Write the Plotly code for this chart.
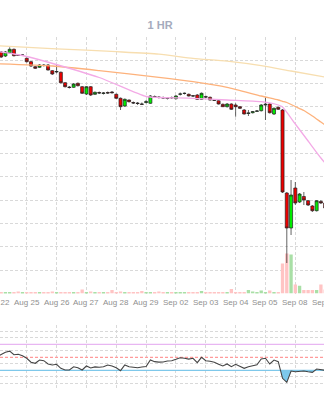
import plotly.graph_objects as go

# ---------------- data ----------------
days = ["Aug 22", "Aug 25", "Aug 26", "Aug 27", "Aug 28", "Aug 29",
        "Sep 02", "Sep 03", "Sep 04", "Sep 05", "Sep 08", "Sep 09"]
bars_per_day = 7
bar_index = list(range(78))

open_ = [44.5, 44.8, 44.4, 44.73, 45.07, 44.5, 44.47, 44.17, 43.83, 43.33,
         43.27, 43.5, 43.5, 42.93, 42.8, 42.77, 41.73, 41.3, 41.27, 41.67,
         41.33, 40.6, 41.33, 40.57, 40.75, 40.65, 40.75, 40.8, 40.57, 40.17,
         39.4, 40.0, 39.75, 39.7, 39.6, 39.75, 39.67, 40.35, 40.3, 40.25,
         40.15, 40.25, 40.13, 40.58, 40.65, 40.57, 40.43, 40.5, 40.07, 40.33,
         40.27, 40.0, 39.93, 39.57, 39.33, 39.6, 39.5, 39.33, 39.0, 38.65,
         38.73, 38.87, 38.93, 39.5, 39.6, 38.6, 39.27, 39.0, 30.7, 27.2,
         31.2, 29.8, 30.35, 29.93, 29.4, 28.93, 29.85, 29.7]
high = [44.7, 44.9, 44.9, 45.27, 45.15, 44.6, 44.57, 44.25, 43.9, 43.4,
        43.6, 43.6, 43.6, 43.0, 43.6, 42.85, 41.8, 41.4, 41.7, 41.75,
        41.4, 41.4, 41.4, 40.85, 40.85, 40.8, 40.85, 40.9, 40.65, 40.25,
        40.15, 40.05, 39.85, 39.8, 39.75, 40.0, 40.5, 40.45, 40.4, 40.35,
        40.3, 40.35, 40.5, 40.75, 40.75, 40.65, 40.5, 40.6, 40.75, 40.45,
        40.35, 40.1, 40.0, 39.65, 39.7, 39.67, 39.67, 39.4, 39.1, 39.0,
        38.9, 39.0, 39.6, 40.27, 39.7, 39.25, 39.35, 39.1, 30.8, 32.0,
        31.8, 30.7, 30.8, 30.0, 29.5, 30.0, 30.0, 29.9]
low = [44.4, 44.2, 44.3, 44.65, 44.35, 44.4, 44.4, 43.75, 43.3, 43.1,
       43.2, 43.35, 42.95, 42.5, 42.67, 41.65, 41.25, 41.15, 41.2, 41.35,
       40.6, 40.5, 40.4, 40.5, 40.6, 40.55, 40.6, 40.65, 40.1, 39.0,
       39.3, 39.75, 39.6, 39.5, 39.5, 39.65, 39.6, 40.2, 40.15, 40.1,
       40.05, 40.1, 40.05, 40.45, 40.55, 40.35, 40.3, 40.0, 40.0, 40.2,
       39.95, 39.9, 39.55, 39.3, 39.25, 39.0, 38.33, 39.1, 38.55, 38.4,
       38.65, 38.8, 38.85, 38.0, 38.65, 38.5, 39.0, 30.7, 23.7, 26.5,
       29.5, 29.7, 29.5, 29.4, 28.8, 28.85, 29.6, 28.4]
close = [44.6, 44.3, 44.8, 45.07, 44.43, 44.45, 44.5, 43.83, 43.4, 43.17,
         43.5, 43.45, 43.0, 42.6, 42.85, 41.73, 41.33, 41.25, 41.6, 41.43,
         40.67, 41.33, 40.5, 40.77, 40.7, 40.7, 40.7, 40.73, 40.17, 39.33,
         40.07, 39.83, 39.7, 39.65, 39.57, 39.83, 40.4, 40.3, 40.25, 40.2,
         40.2, 40.23, 40.4, 40.6, 40.67, 40.4, 40.4, 40.07, 40.67, 40.3,
         40.0, 39.97, 39.6, 39.33, 39.6, 39.07, 39.33, 39.17, 38.6, 38.7,
         38.83, 38.9, 39.5, 39.57, 38.73, 39.17, 39.07, 30.8, 27.2, 30.5,
         29.7, 30.6, 30.0, 29.5, 28.93, 29.93, 29.7, 29.2]
volume = [0.23, 0.23, 0.23, 0.28, 0.23, 0.47, 0.23, 0.23, 0.28, 0.23,
          0.23, 0.23, 0.28, 0.47, 0.23, 0.35, 0.28, 0.23, 0.23, 0.28,
          0.94, 0.35, 0.47, 0.23, 0.35, 0.23, 0.35, 0.82, 0.35, 0.47,
          0.35, 0.35, 0.35, 0.35, 0.58, 0.23, 0.35, 0.23, 0.47, 0.35,
          0.23, 0.35, 0.23, 0.35, 0.23, 0.35, 0.23, 0.23, 0.58, 0.23,
          0.35, 0.23, 0.35, 0.35, 0.35, 1.05, 0.35, 0.35, 0.35, 0.82,
          0.47, 0.35, 0.7, 0.35, 0.7, 0.35, 0.35, 7.0, 9.35, 9.1,
          2.1, 1.8, 0.82, 0.82, 0.82, 0.82, 2.1, 0.94]

# moving averages, read at knot bars
ma_long_idx = [0, 14, 28, 38, 46, 54, 62, 69, 77]
ma_long_val = [45.42, 45.12, 44.83, 44.58, 44.17, 43.88, 43.43, 42.9, 42.3]
ma_mid_idx = [0, 13, 24, 38, 46, 54, 62, 66, 67, 68, 69, 70, 72, 74, 76, 77]
ma_mid_val = [43.62, 43.4, 42.94, 42.27, 41.83, 41.27, 40.4, 40.0, 39.87,
              39.75, 39.55, 39.35, 38.95, 38.4, 37.8, 37.5]
ma_fast_idx = [0, 4, 7, 11, 24, 35, 38, 46, 54, 62, 66, 67, 70, 73, 76, 77]
ma_fast_val = [44.85, 44.6, 44.35, 43.9, 42.25, 40.35, 40.25, 40.17, 40.0,
               39.83, 39.5, 39.3, 37.6, 35.9, 34.2, 33.7]

rsi = [51, 54.5, 57.7, 59.5, 54, 54.6, 52.5, 48.5, 42.5, 40.8,
       45.8, 44.8, 39.7, 38.2, 39.2, 33, 30.5, 30.5, 35.5, 34,
       30.5, 36.6, 33.5, 35.3, 34.6, 35.5, 38.2, 36.6, 34, 29.4,
       38.2, 35.5, 34.6, 34, 35, 35.8, 45.8, 43.3, 42.6, 42.8,
       44.3, 44.8, 46.9, 49.4, 48.5, 47.2, 48.5, 41.7, 50, 44.8,
       43.8, 42.5, 39.5, 36.6, 39.7, 35.5, 39.2, 35.5, 33, 35.5,
       37, 38.5, 47.4, 48.5, 39.7, 45.8, 43.2, 17.7, 11.5, 28.9,
       27.8, 28.9, 28.9, 27.8, 26.9, 32, 31, 30]
rsi_upper, rsi_mid, rsi_lower = 70, 50, 30

# ---------------- figure ----------------
tick_vals = [k * bars_per_day for k in range(len(days))]
x_range = [0.727, 76.727]

vol_colors = ["#a9dfa6" if c >= o else "#ffc4c4" for o, c in zip(open_, close)]

fig = go.Figure()

fig.add_trace(go.Bar(x=bar_index, y=volume, marker=dict(color=vol_colors, line=dict(width=0)),
                     xaxis="x", yaxis="y", showlegend=False, hoverinfo="skip"))

fig.add_trace(go.Candlestick(
    x=bar_index, open=open_, high=high, low=low, close=close,
    increasing=dict(fillcolor="#00ee00", line=dict(color="#222222", width=0.7)),
    decreasing=dict(fillcolor="#ee0000", line=dict(color="#222222", width=0.7)),
    whiskerwidth=0, xaxis="x", yaxis="y2", showlegend=False))

for idx, val, col in [(ma_long_idx, ma_long_val, "#f7deb0"),
                      (ma_mid_idx, ma_mid_val, "#fdb27c"),
                      (ma_fast_idx, ma_fast_val, "#f3aae6")]:
    fig.add_trace(go.Scatter(x=idx, y=val, mode="lines",
                             line=dict(color=col, width=1.3, shape="spline", smoothing=0.6),
                             xaxis="x", yaxis="y2", showlegend=False, hoverinfo="skip"))

# RSI fill below lower level
fx, fy = [], []
for i in range(len(rsi)):
    if i > 0:
        a, b = rsi[i - 1], rsi[i]
        if (a - rsi_lower) * (b - rsi_lower) < 0:
            t = (rsi_lower - a) / (b - a)
            fx.append(bar_index[i - 1] + t)
            fy.append(rsi_lower)
    fx.append(bar_index[i])
    fy.append(min(rsi[i], rsi_lower))

fig.add_trace(go.Scatter(x=fx, y=[rsi_lower] * len(fx), mode="lines", line=dict(width=0),
                         xaxis="x2", yaxis="y3", showlegend=False, hoverinfo="skip"))
fig.add_trace(go.Scatter(x=fx, y=fy, mode="lines", line=dict(width=0), fill="tonexty",
                         fillcolor="#7dc9ec", xaxis="x2", yaxis="y3", showlegend=False,
                         hoverinfo="skip"))

for lvl, col, dash in [(rsi_upper, "#e8b6f2", "solid"), (rsi_mid, "#ff9a9a", "3px,2px"),
                       (rsi_lower, "#7fc8ea", "solid")]:
    fig.add_trace(go.Scatter(x=x_range, y=[lvl, lvl], mode="lines",
                             line=dict(color=col, width=1.3, dash=dash),
                             xaxis="x2", yaxis="y3", showlegend=False, hoverinfo="skip"))

fig.add_trace(go.Scatter(x=bar_index, y=rsi, mode="lines", line=dict(color="#444444", width=1.1),
                         xaxis="x2", yaxis="y3", showlegend=False, hoverinfo="skip"))

grid = dict(showgrid=True, gridcolor="#d9d9d9", gridwidth=1, griddash="3px,2px", zeroline=False)
main_dom = [0.26625, 0.9075]
rsi_dom = [0.0255, 0.188]

# day labels (including the partly clipped ones at both edges)
span = x_range[1] - x_range[0]
annotations = [dict(text=d, x=(tv - x_range[0]) / span, xref="paper", y=0.24375, yref="paper",
                    xanchor="center", yanchor="middle", showarrow=False,
                    font=dict(family="Liberation Sans, Arial", size=8, color="#8f8f8f"))
               for d, tv in zip(days, tick_vals)]

fig.update_layout(
    width=324, height=400, margin=dict(l=0, r=0, t=0, b=0),
    paper_bgcolor="white", plot_bgcolor="white",
    title=dict(text="<b>1 HR</b>", x=0.494, xref="paper", y=(400 - 25) / 400, yanchor="middle",
               xanchor="center", font=dict(family="Liberation Sans, Arial", size=11, color="#a5abbd")),
    font=dict(family="Liberation Sans, Arial", size=8, color="#8f8f8f"),
    boxgap=0.25, boxgroupgap=0.05, bargap=0.22,
    annotations=annotations,
    xaxis=dict(domain=[0, 1], range=x_range, anchor="y", tickmode="array", tickvals=tick_vals,
               showticklabels=False, ticks="", showline=False, rangeslider=dict(visible=False),
               **grid),
    yaxis=dict(domain=main_dom, range=[0, 60], visible=False, showgrid=False, zeroline=False),
    yaxis2=dict(domain=main_dom, overlaying="y", range=[20.65, 46.3], tick0=20.65, dtick=2.33182,
                showticklabels=False, ticks="", showline=False, **grid),
    xaxis2=dict(domain=[0, 1], range=x_range, anchor="y3", tickmode="array", tickvals=tick_vals,
                showticklabels=False, ticks="", showline=False, **grid),
    yaxis3=dict(domain=rsi_dom, range=[0, 100], dtick=10, anchor="x2", showticklabels=False,
                ticks="", showline=False, **grid),
)

fig.write_html("out.html")
